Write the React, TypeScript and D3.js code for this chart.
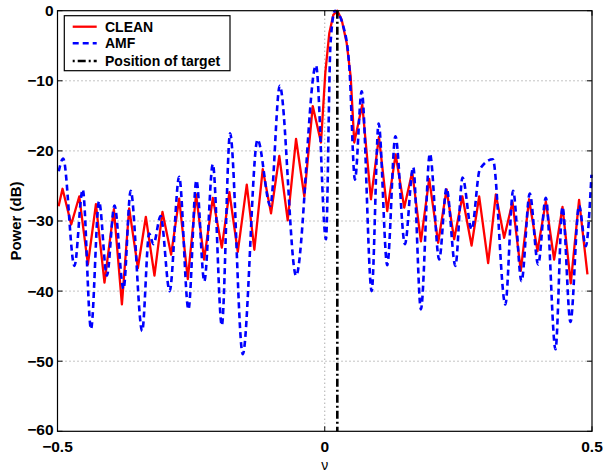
import React from "react";
import * as d3 from "d3";

const X_TICKS = [-0.5, 0, 0.5];
const Y_TICKS = [-60, -50, -40, -30, -20, -10, 0];
const X_TICK_LABELS = ["\u22120.5", "0", "0.5"];
const Y_TICK_LABELS = ["\u221260", "\u221250", "\u221240", "\u221230", "\u221220", "\u221210", "0"];
const TARGET_NU = 0.0235;

const CLEAN_NU = [
  -0.498, -0.4906, -0.4743, -0.4593, -0.4431, -0.4281, -0.4121, -0.3945, -0.3795, -0.3659,
  -0.3496, -0.3347, -0.3186, -0.3036, -0.2874, -0.2724, -0.2562, -0.2407, -0.2257, -0.2094,
  -0.1926, -0.1784, -0.1627, -0.1459, -0.1317, -0.116, -0.1005, -0.085, -0.0693, -0.0537,
  -0.0382, -0.0225, -0.007, 0.001, 0.0085, 0.016, 0.0235, 0.0317, 0.041, 0.0485,
  0.0552, 0.0702, 0.0864, 0.1014, 0.1169, 0.1326, 0.1487, 0.1636, 0.1799, 0.1954,
  0.2122, 0.2279, 0.2421, 0.2575, 0.2747, 0.2889, 0.3057, 0.3201, 0.3356, 0.3513,
  0.3668, 0.3823, 0.398, 0.4136, 0.4291, 0.4448, 0.4603, 0.4758, 0.4915,
];
const CLEAN_DB = [
  -27.9, -25.4, -30.5, -26.5, -36.2, -27.6, -38.8, -28.3, -41.9, -28.2,
  -36.7, -29.4, -37.8, -28.7, -34.8, -26.8, -38.3, -26.2, -35.5, -26.7,
  -33.8, -25.9, -34.4, -24.8, -34.1, -22.6, -28.9, -20.7, -29.9, -18.3,
  -26.5, -13.6, -18.8, -8.9, -3.2, -0.6, 0, -1.3, -4.6, -9.4,
  -18.8, -13.4, -26.9, -18.0, -28.6, -20.5, -28.1, -23.0, -32.9, -24.0,
  -33.1, -25.5, -32.6, -26.5, -33.5, -26.5, -36.0, -26.2, -32.4, -27.3,
  -37.1, -26.9, -34.3, -27.2, -35.5, -28.0, -38.9, -27.0, -37.6,
];

const AMF_NU = [
  -0.4977, -0.4893, -0.4683, -0.4528, -0.4373, -0.4223, -0.4076, -0.3934, -0.3765, -0.3631,
  -0.3416, -0.3285, -0.3205, -0.307, -0.2902, -0.2724, -0.255, -0.2401, -0.2253, -0.2094,
  -0.1926, -0.1771, -0.1534, -0.1257, -0.1018, -0.0842, -0.0537, -0.0164, 0.0023, 0.0107,
  0.0191, 0.0346, 0.0459, 0.0565, 0.0691, 0.0878, 0.1008, 0.1169, 0.1322, 0.15,
  0.1655, 0.1799, 0.1967, 0.2141, 0.2279, 0.2444, 0.2578, 0.2747, 0.2902, 0.3144,
  0.3379, 0.3524, 0.3681, 0.3836, 0.3992, 0.4136, 0.4317, 0.4448, 0.4597, 0.4758,
  0.4883, 0.499,
];
const AMF_DB = [
  -22.9, -21.1, -36.4, -25.5, -45.4, -27.2, -37.8, -27.8, -39.7, -25.7,
  -45.7, -31.8, -33.3, -29.3, -40.0, -23.7, -42.6, -24.2, -38.6, -21.9,
  -44.9, -17.5, -49.0, -18.4, -27.8, -10.7, -37.8, -7.8, -32.6, -4.8,
  0, -2.2, -7.9, -24.1, -11.5, -40.0, -16.1, -36.3, -17.9, -33.3,
  -22.3, -42.6, -20.4, -35.5, -25.3, -36.4, -23.8, -31.2, -22.6, -21.2,
  -41.9, -25.7, -38.6, -26.1, -36.2, -26.7, -48.3, -28.0, -44.4, -27.8,
  -33.6, -23.4,
];

const W = 603;
const H = 472;
const LEFT = 57.5;
const RIGHT = 592;
const TOP = 10.7;
const BOTTOM = 431.3;
const FONT = "'Liberation Sans', Arial, Helvetica, sans-serif";

export default function App() {
  const x = d3.scaleLinear().domain([-0.5, 0.5]).range([LEFT, RIGHT]);
  const y = d3.scaleLinear().domain([-60, 0]).range([BOTTOM, TOP]);

  const cleanPts: [number, number][] = CLEAN_NU.map((v, i) => [v, CLEAN_DB[i]]);
  const amfPts: [number, number][] = AMF_NU.map((v, i) => [v, AMF_DB[i]]);

  const redLine = d3
    .line<[number, number]>()
    .x((d) => x(d[0]))
    .y((d) => y(d[1]))(cleanPts) as string;
  const blueLine = d3
    .line<[number, number]>()
    .x((d) => x(d[0]))
    .y((d) => y(d[1]))
    .curve(d3.curveMonotoneX)(amfPts) as string;

  const tick = 5;

  return (
    <svg
      width={W}
      height={H}
      style={{ position: "absolute", left: 0, top: 0, background: "#fff" }}
      fontFamily={FONT}
    >
      <rect x={0} y={0} width={W} height={H} fill="#fff" />
      {/* grid */}
      {Y_TICKS.filter((t) => t !== 0 && t !== -60).map((t) => (
        <line
          key={"gy" + t}
          x1={LEFT}
          x2={RIGHT}
          y1={y(t)}
          y2={y(t)}
          stroke="#888"
          strokeWidth={1}
          strokeDasharray="1,3"
        />
      ))}
      {X_TICKS.filter((t) => t === 0).map((t) => (
        <line
          key={"gx" + t}
          x1={x(t)}
          x2={x(t)}
          y1={TOP}
          y2={BOTTOM}
          stroke="#888"
          strokeWidth={1}
          strokeDasharray="1,3"
        />
      ))}

      {/* series */}
      <path d={redLine} fill="none" stroke="#ff0000" strokeWidth={2.3} strokeLinejoin="round" />
      <path
        d={blueLine}
        fill="none"
        stroke="#0000ff"
        strokeWidth={2.6}
        strokeDasharray="6,4"
      />
      <line
        x1={x(TARGET_NU)}
        x2={x(TARGET_NU)}
        y1={TOP}
        y2={BOTTOM}
        stroke="#000"
        strokeWidth={2.6}
        strokeDasharray="8,3,2,3"
      />

      {/* axes box */}
      <rect
        x={LEFT}
        y={TOP}
        width={RIGHT - LEFT}
        height={BOTTOM - TOP}
        fill="none"
        stroke="#000"
        strokeWidth={1.2}
      />
      {Y_TICKS.map((t) => (
        <g key={"ty" + t}>
          <line x1={LEFT} x2={LEFT + tick} y1={y(t)} y2={y(t)} stroke="#000" />
          <line x1={RIGHT} x2={RIGHT - tick} y1={y(t)} y2={y(t)} stroke="#000" />
        </g>
      ))}
      {X_TICKS.map((t) => (
        <g key={"tx" + t}>
          <line x1={x(t)} x2={x(t)} y1={BOTTOM} y2={BOTTOM - tick} stroke="#000" />
          <line x1={x(t)} x2={x(t)} y1={TOP} y2={TOP + tick} stroke="#000" />
        </g>
      ))}

      {/* tick labels */}
      {Y_TICKS.map((t, i) => (
        <text
          key={"ly" + t}
          x={LEFT - 4}
          y={t === -60 ? y(t) - 2 : y(t)}
          dy="0.35em"
          textAnchor="end"
          fontSize={15.5}
          fontWeight="bold"
        >
          {Y_TICK_LABELS[i]}
        </text>
      ))}
      {X_TICKS.map((t, i) => (
        <text
          key={"lx" + t}
          x={x(t)}
          y={BOTTOM + 20.5}
          textAnchor="middle"
          fontSize={15.5}
          fontWeight="bold"
        >
          {X_TICK_LABELS[i]}
        </text>
      ))}

      {/* axis labels */}
      <text x={(LEFT + RIGHT) / 2} y={470} textAnchor="middle" fontSize={14}>
        ν
      </text>
      <text
        transform={`translate(21, ${(TOP + BOTTOM) / 2}) rotate(-90)`}
        textAnchor="middle"
        fontSize={15}
        fontWeight="bold"
      >
        Power (dB)
      </text>

      {/* legend */}
      <g>
        <rect x={64.3} y={15.7} width={165.7} height={55} fill="#fff" stroke="#000" strokeWidth={1.2} />
        <line x1={72.7} x2={96.7} y1={26.7} y2={26.7} stroke="#ff0000" strokeWidth={2.3} />
        <line x1={72.7} x2={96.7} y1={43.3} y2={43.3} stroke="#0000ff" strokeWidth={2.6} strokeDasharray="6,4" />
        <line x1={72.7} x2={96.7} y1={61} y2={61} stroke="#000" strokeWidth={2.6} strokeDasharray="2,3,8,3" />
        <text x={105} y={26.7} dy="0.35em" fontSize={14} fontWeight="bold">CLEAN</text>
        <text x={105} y={43.3} dy="0.35em" fontSize={14} fontWeight="bold">AMF</text>
        <text x={105} y={61} dy="0.35em" fontSize={14} fontWeight="bold">Position of target</text>
      </g>
    </svg>
  );
}
